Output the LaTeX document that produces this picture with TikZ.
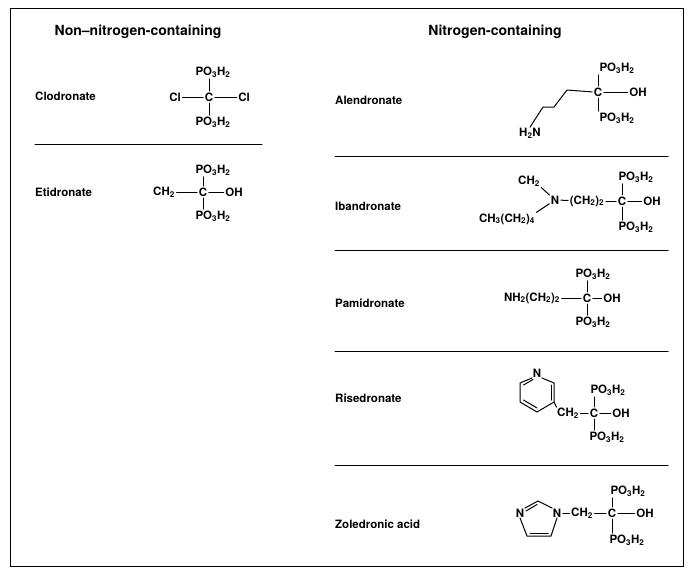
\documentclass[tikz,border=0pt]{standalone}
\usepackage{fontspec}
\setmainfont{TeX Gyre Heros}
\newcommand{\subs}[1]{\textsubscript{#1}}
\newcommand{\poh}{PO\subs{3}H\subs{2}}
\begin{document}
\begin{tikzpicture}[x=1pt, y=-1pt, line cap=round,
  font=\bfseries\fontsize{11.5}{13}\selectfont,
  grp/.style={inner sep=0.5pt},
  drug/.style={anchor=west, inner sep=0pt},
  head/.style={font=\bfseries\fontsize{14}{16}\selectfont},
  bond/.style={line width=1pt, shorten <=1pt, shorten >=1pt},
  rule/.style={line width=1pt}]

  \useasboundingbox (0,0) rectangle (693,574);
  \draw[line width=1pt] (10,8) rectangle (683,566);

  % headings
  \node[head] (hl) at (138,32) {Non--nitrogen-containing};
  \node[head] (hr) at (495,32) {Nitrogen-containing};

  % dividers
  \draw[rule] (35,144) -- (262,144);
  \foreach \y in {156,250,351,465}
    \draw[rule] (335,\y) -- (668,\y);

  % drug names
  \node[drug] (clo) at (35,96) {Clodronate};
  \node[drug] (eti) at (35,192) {Etidronate};
  \node[drug] (ale) at (335,100) {Alendronate};
  \node[drug] (iba) at (335,206) {Ibandronate};
  \node[drug] (pam) at (335,303) {Pamidronate};
  \node[drug] (ris) at (335,398) {Risedronate};
  \node[drug] (zol) at (335,524) {Zoledronic acid};

  % clodronate
  \node[grp] (c1) at (209,97) {C};
  \node[grp] (c1t) at (213,72) {\poh};
  \node[grp] (c1b) at (213,122) {\poh};
  \node[grp] (c1l) at (175,97) {Cl};
  \node[grp] (c1r) at (244,97) {Cl};
  \draw[bond] (c1) -- (c1.center |- c1t.south);
  \draw[bond] (c1) -- (c1.center |- c1b.north);
  \draw[bond] (c1l) -- (c1);
  \draw[bond] (c1) -- (c1r);

  % etidronate
  \node[grp] (c2) at (203,192) {C};
  \node[grp] (c2t) at (213,170) {\poh};
  \node[grp] (c2b) at (213,216) {\poh};
  \node[grp] (c2l) at (164,192) {CH\subs{2}};
  \node[grp] (c2r) at (234,192) {OH};
  \draw[bond] (c2) -- (c2.center |- c2t.south);
  \draw[bond] (c2) -- (c2.center |- c2b.north);
  \draw[bond] (c2l) -- (c2);
  \draw[bond] (c2) -- (c2r);

  % alendronate
  \node[grp] (c3) at (598,92) {C};
  \node[grp] (c3t) at (617,68) {\poh};
  \node[grp] (c3b) at (617,118) {\poh};
  \node[grp] (c3r) at (638,92) {OH};
  \node[grp] (c3n) at (530,133) {H\subs{2}N};
  \draw[bond] (c3) -- (c3.center |- c3t.south);
  \draw[bond] (c3) -- (c3.center |- c3b.north);
  \draw[bond] (c3) -- (c3r);
  \draw[line width=1pt, shorten >=1pt] (c3n.north) -- (543,107) -- (554,107) -- (567,90) -- (c3.west);

  % ibandronate
  \node[grp] (c4) at (622,201) {C};
  \node[grp] (c4t) at (636,177) {\poh};
  \node[grp] (c4b) at (636,227) {\poh};
  \node[grp] (c4r) at (652,201) {OH};
  \node[grp] (n4) at (555,200) {N};
  \node[grp] (m4) at (529,181) {CH\subs{2}};
  \node[grp] (p4) at (507,219) {CH\subs{3}(CH\subs{2})\subs{4}};
  \node[grp] (e4) at (587,201) {(CH\subs{2})\subs{2}};
  \draw[bond] (c4) -- (c4.center |- c4t.south);
  \draw[bond] (c4) -- (c4.center |- c4b.north);
  \draw[bond] (c4) -- (c4r);
  \draw[bond] (m4.south east) -- (n4);
  \draw[bond] (p4.north east) -- (n4);
  \draw[bond] (n4) -- (e4);
  \draw[bond] (e4) -- (c4);

  % pamidronate
  \node[grp] (c5) at (587,298) {C};
  \node[grp] (c5t) at (593,274) {\poh};
  \node[grp] (c5b) at (593,322) {\poh};
  \node[grp] (c5r) at (612,298) {OH};
  \node[grp] (a5) at (532,298) {NH\subs{2}(CH\subs{2})\subs{2}};
  \draw[bond] (c5) -- (c5.center |- c5t.south);
  \draw[bond] (c5) -- (c5.center |- c5b.north);
  \draw[bond] (c5) -- (c5r);
  \draw[bond] (a5) -- (c5);

  % risedronate
  \node[grp] (c6) at (594,413) {C};
  \node[grp] (c6t) at (608,390) {\poh};
  \node[grp] (c6b) at (607,437) {\poh};
  \node[grp] (c6r) at (621,413) {OH};
  \node[grp] (h6) at (568,413) {CH\subs{2}};
  \node[grp] (n6) at (537,373) {N};
  \coordinate (r1) at (554,383);
  \coordinate (r2) at (554,402);
  \coordinate (r3) at (537,412);
  \coordinate (r4) at (520,402);
  \coordinate (r5) at (520,383);
  \draw[bond] (c6) -- (c6.center |- c6t.south);
  \draw[bond] (c6) -- (c6.center |- c6b.north);
  \draw[bond] (c6) -- (c6r);
  \draw[bond] (h6) -- (c6);
  \draw[line width=1pt] (n6.south east) -- (r1) -- (r2) -- (r3) -- (r4) -- (r5) -- (n6.south west);
  \draw[line width=1pt] (523.5,385) -- (533,379.5);
  \draw[line width=1pt] (523.5,400) -- (537,408);
  \draw[line width=1pt] (551,385) -- (551,400);
  \draw[line width=1pt] (r2) -- (h6.north west);

  % zoledronic acid
  \node[grp] (c7) at (612,513) {C};
  \node[grp] (c7t) at (628,491) {\poh};
  \node[grp] (c7b) at (627,540) {\poh};
  \node[grp] (c7r) at (645,513) {OH};
  \node[grp] (h7) at (582,513) {CH\subs{2}};
  \node[grp] (na7) at (520,513) {N};
  \node[grp] (nb7) at (557,513) {N};
  \coordinate (q1) at (538,501);
  \coordinate (q2) at (551,536);
  \coordinate (q3) at (527,536);
  \draw[bond] (c7) -- (c7.center |- c7t.south);
  \draw[bond] (c7) -- (c7.center |- c7b.north);
  \draw[bond] (c7) -- (c7r);
  \draw[bond] (h7) -- (c7);
  \draw[bond] (nb7) -- (h7);
  \draw[line width=1pt] (na7.north east) -- (q1) -- (nb7.north west);
  \draw[line width=1pt] (nb7.south) -- (q2) -- (q3) -- (na7.south);
  \draw[line width=1pt] (526,511) -- (537,504.5);
  \draw[line width=1pt] (530,533) -- (548,533);
\end{tikzpicture}
\end{document}
